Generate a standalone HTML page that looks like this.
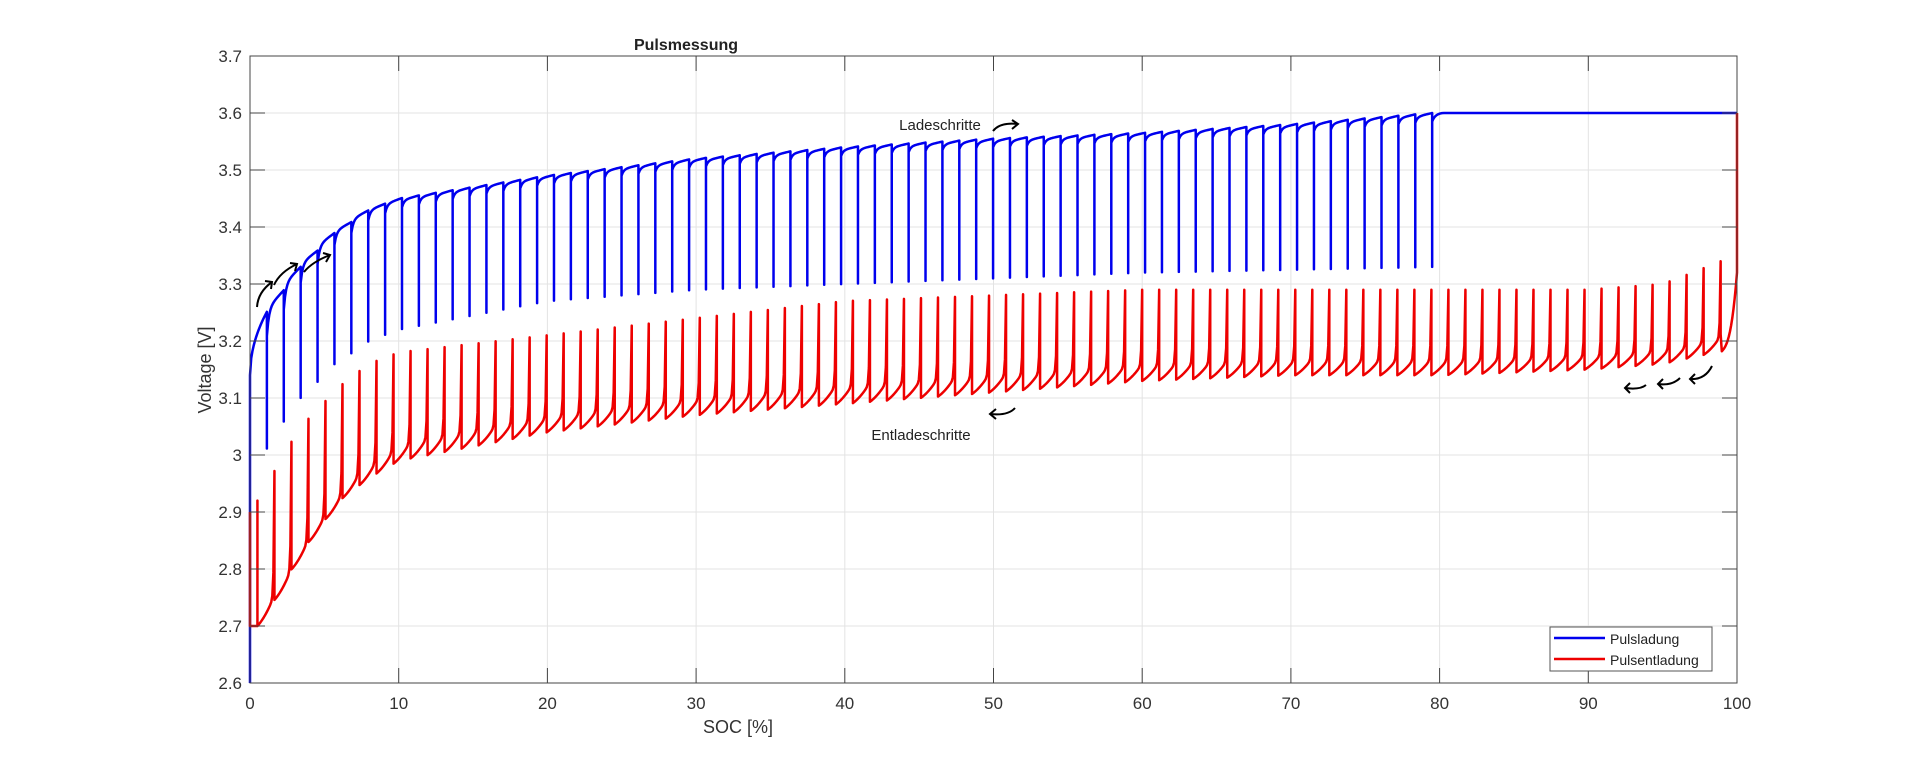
<!DOCTYPE html>
<html><head><meta charset="utf-8"><style>
html,body{margin:0;padding:0;background:#fff;}
svg{display:block;font-family:"Liberation Sans",Arial,sans-serif;}
</style></head><body>
<svg id="s" width="1920" height="768" xmlns="http://www.w3.org/2000/svg">
<rect width="1920" height="768" fill="#fff"/>
<g id="grid"></g>
<g id="data"></g>
<g id="axes"></g>
<text x="686" y="50" font-size="16" font-weight="bold" text-anchor="middle" fill="#222">Pulsmessung</text>
<text x="738" y="733" font-size="18" text-anchor="middle" fill="#333">SOC [%]</text>
<text transform="translate(211,370) rotate(-90)" font-size="18" text-anchor="middle" fill="#333">Voltage [V]</text>
<text x="940" y="130" font-size="15" text-anchor="middle" fill="#222">Ladeschritte</text>
<text x="921" y="440" font-size="15" text-anchor="middle" fill="#222">Entladeschritte</text>
<g fill="none" stroke="#000" stroke-width="2">
<path d="M993 131 Q1000 122 1018 124 M1012 120 L1018 124 L1012 129"/>
<path d="M1015 408 Q1008 416 990 414 M996 409 L990 414 L996 419"/>
<path d="M257 307 Q258 292 272 282 M265 281 L272 282 L271 289"/>
<path d="M274 285 Q280 272 297 264 M290 263 L297 264 L295 271"/>
<path d="M304 272 Q312 262 330 255 M323 253 L330 255 L326 262"/>
<path d="M1646 385 Q1640 390 1625 388 M1630 383 L1625 388 L1630 393"/>
<path d="M1680 378 Q1672 386 1658 384 M1663 379 L1658 384 L1663 389"/>
<path d="M1712 366 Q1705 380 1690 379 M1695 374 L1690 379 L1695 384"/>
</g>
<rect x="1550" y="627" width="162" height="44" fill="#fff" stroke="#555" stroke-width="1"/>
<line x1="1554" y1="638" x2="1605" y2="638" stroke="#0000ee" stroke-width="2.5"/>
<line x1="1554" y1="659" x2="1605" y2="659" stroke="#ee0000" stroke-width="2.5"/>
<text x="1610" y="644" font-size="14" fill="#222">Pulsladung</text>
<text x="1610" y="665" font-size="14" fill="#222">Pulsentladung</text>
</svg>
<script>
const L=250,R=1737,T=56,B=683;
const X=v=>L+(R-L)*v/100, Y=v=>B-(B-T)*(v-2.6)/1.1;
function interp(tab,x){if(x<=tab[0][0])return tab[0][1];for(let i=1;i<tab.length;i++){if(x<=tab[i][0]){const a=tab[i-1],b=tab[i];return a[1]+(b[1]-a[1])*(x-a[0])/(b[0]-a[0]);}}return tab[tab.length-1][1];}
const ns="http://www.w3.org/2000/svg";
function el(g,tag,attrs,txt){const e=document.createElementNS(ns,tag);for(const k in attrs)e.setAttribute(k,attrs[k]);if(txt!==undefined)e.textContent=txt;document.getElementById(g).appendChild(e);return e;}
for(let i=0;i<=10;i++){const x=X(i*10);el('grid','line',{x1:x,y1:T,x2:x,y2:B,stroke:'#e3e3e3','stroke-width':1});
 el('axes','line',{x1:x,y1:B,x2:x,y2:B-15,stroke:'#444'});el('axes','line',{x1:x,y1:T,x2:x,y2:T+15,stroke:'#444'});
 el('axes','text',{x:x,y:B+26,'font-size':17,'text-anchor':'middle',fill:'#333'},String(i*10));}
for(let i=0;i<=11;i++){const v=2.6+i*0.1,y=Y(v);el('grid','line',{x1:L,y1:y,x2:R,y2:y,stroke:'#e3e3e3','stroke-width':1});
 el('axes','line',{x1:L,y1:y,x2:L+15,y2:y,stroke:'#444'});el('axes','line',{x1:R,y1:y,x2:R-15,y2:y,stroke:'#444'});
 let s=(Math.round(v*10)/10).toString();el('axes','text',{x:L-8,y:y+6,'font-size':17,'text-anchor':'end',fill:'#333'},s);}
el('axes','rect',{x:L,y:T,width:R-L,height:B-T,fill:'none',stroke:'#444','stroke-width':1});
const bp=[[0,3.14],[1.1,3.25],[2.3,3.29],[3.4,3.33],[4.6,3.36],[5.7,3.39],[6.9,3.41],[8,3.43],[10,3.45],[15,3.47],[20,3.49],[30,3.52],[40,3.54],[50,3.555],[60,3.565],[70,3.58],[79.5,3.6]];
const bl=[[1.1,3.01],[2.3,3.06],[3.4,3.1],[4.6,3.13],[5.7,3.16],[6.9,3.18],[8,3.2],[10,3.22],[20,3.27],[30,3.29],[40,3.3],[50,3.31],[60,3.32],[70,3.325],[79.5,3.33]];
const dx=79.5/70;
let d=`M${X(0)} ${Y(2.6)} L${X(0)} ${Y(3.14)}`;
for(let i=0;i<70;i++){const x0=i*dx,x1=(i+1)*dx;const p0=interp(bp,x0),p1=interp(bp,x1);
 const start=i==0?3.14:p0-0.015-0.04*Math.exp(-x0/3);
 if(i>0)d+=` L${X(x0)} ${Y(start)}`;
 for(let k=1;k<=14;k++){const t=k/14;const f=i==0?Math.sqrt(t):0.6*(1-Math.exp(-8*t))/(1-Math.exp(-8))+0.4*t;const v=start+(p1-start)*f;d+=` L${X(x0+dx*t)} ${Y(v)}`;}
 if(i<69){d+=` L${X(x1)} ${Y(interp(bl,x1))}`;}else{d+=` L${X(x1)} ${Y(3.33)} L${X(x1)} ${Y(3.585)} Q${X(x1+0.2)} ${Y(3.6)} ${X(80.3)} ${Y(3.6)} L${X(100)} ${Y(3.6)}`;}
}
el('data','path',{d:d,fill:'none',stroke:'#0000ee','stroke-width':2.5,'stroke-linejoin':'round'});
const rl=[[0,2.7],[0.5,2.7],[2,2.76],[3,2.81],[4,2.85],[6,2.92],[8,2.96],[10,2.99],[20,3.04],[30,3.07],[40,3.09],[50,3.11],[60,3.13],[70,3.14],[80,3.14],[90,3.15],[95,3.16],[98.5,3.18],[100,3.3]];
const rp=[[0.5,2.92],[1.6,2.97],[2.7,3.02],[3.8,3.06],[4.9,3.09],[6,3.12],[7,3.14],[8,3.16],[10,3.18],[20,3.21],[30,3.24],[40,3.27],[50,3.28],[60,3.29],[90,3.29],[95,3.3],[97,3.32],[98.9,3.34]];
const n=86,rdx=(98.9-0.5)/n;
let r=`M${X(0)} ${Y(2.9)} L${X(0)} ${Y(2.7)} L${X(0.5)} ${Y(2.7)} L${X(0.5)} ${Y(2.92)} L${X(0.5)} ${Y(2.7)}`;
for(let i=0;i<n;i++){const x0=0.5+i*rdx,x1=x0+rdx;const l0=interp(rl,x0),l1=interp(rl,x1);const pk=interp(rp,x1);
 const h=pk-l0;
 for(let k=1;k<=16;k++){const t=k/16;const v=l0+h*(0.12*t+0.08*t*t+0.8*Math.pow(t,25));r+=` L${X(x0+rdx*t)} ${Y(v)}`;}
 r+=` L${X(x1)} ${Y(l1)}`;}
const xe=98.9;
for(let k=1;k<=14;k++){const t=k/14;const v=3.18+(3.32-3.18)*(0.2*t+0.8*Math.pow(t,3));r+=` L${X(xe+(100-xe)*t)} ${Y(v)}`;}
r+=` L${X(100)} ${Y(3.6)}`;
el('data','path',{d:r,fill:'none',stroke:'#ee0000','stroke-width':2.5,'stroke-linejoin':'round'});
</script>
</body></html>
